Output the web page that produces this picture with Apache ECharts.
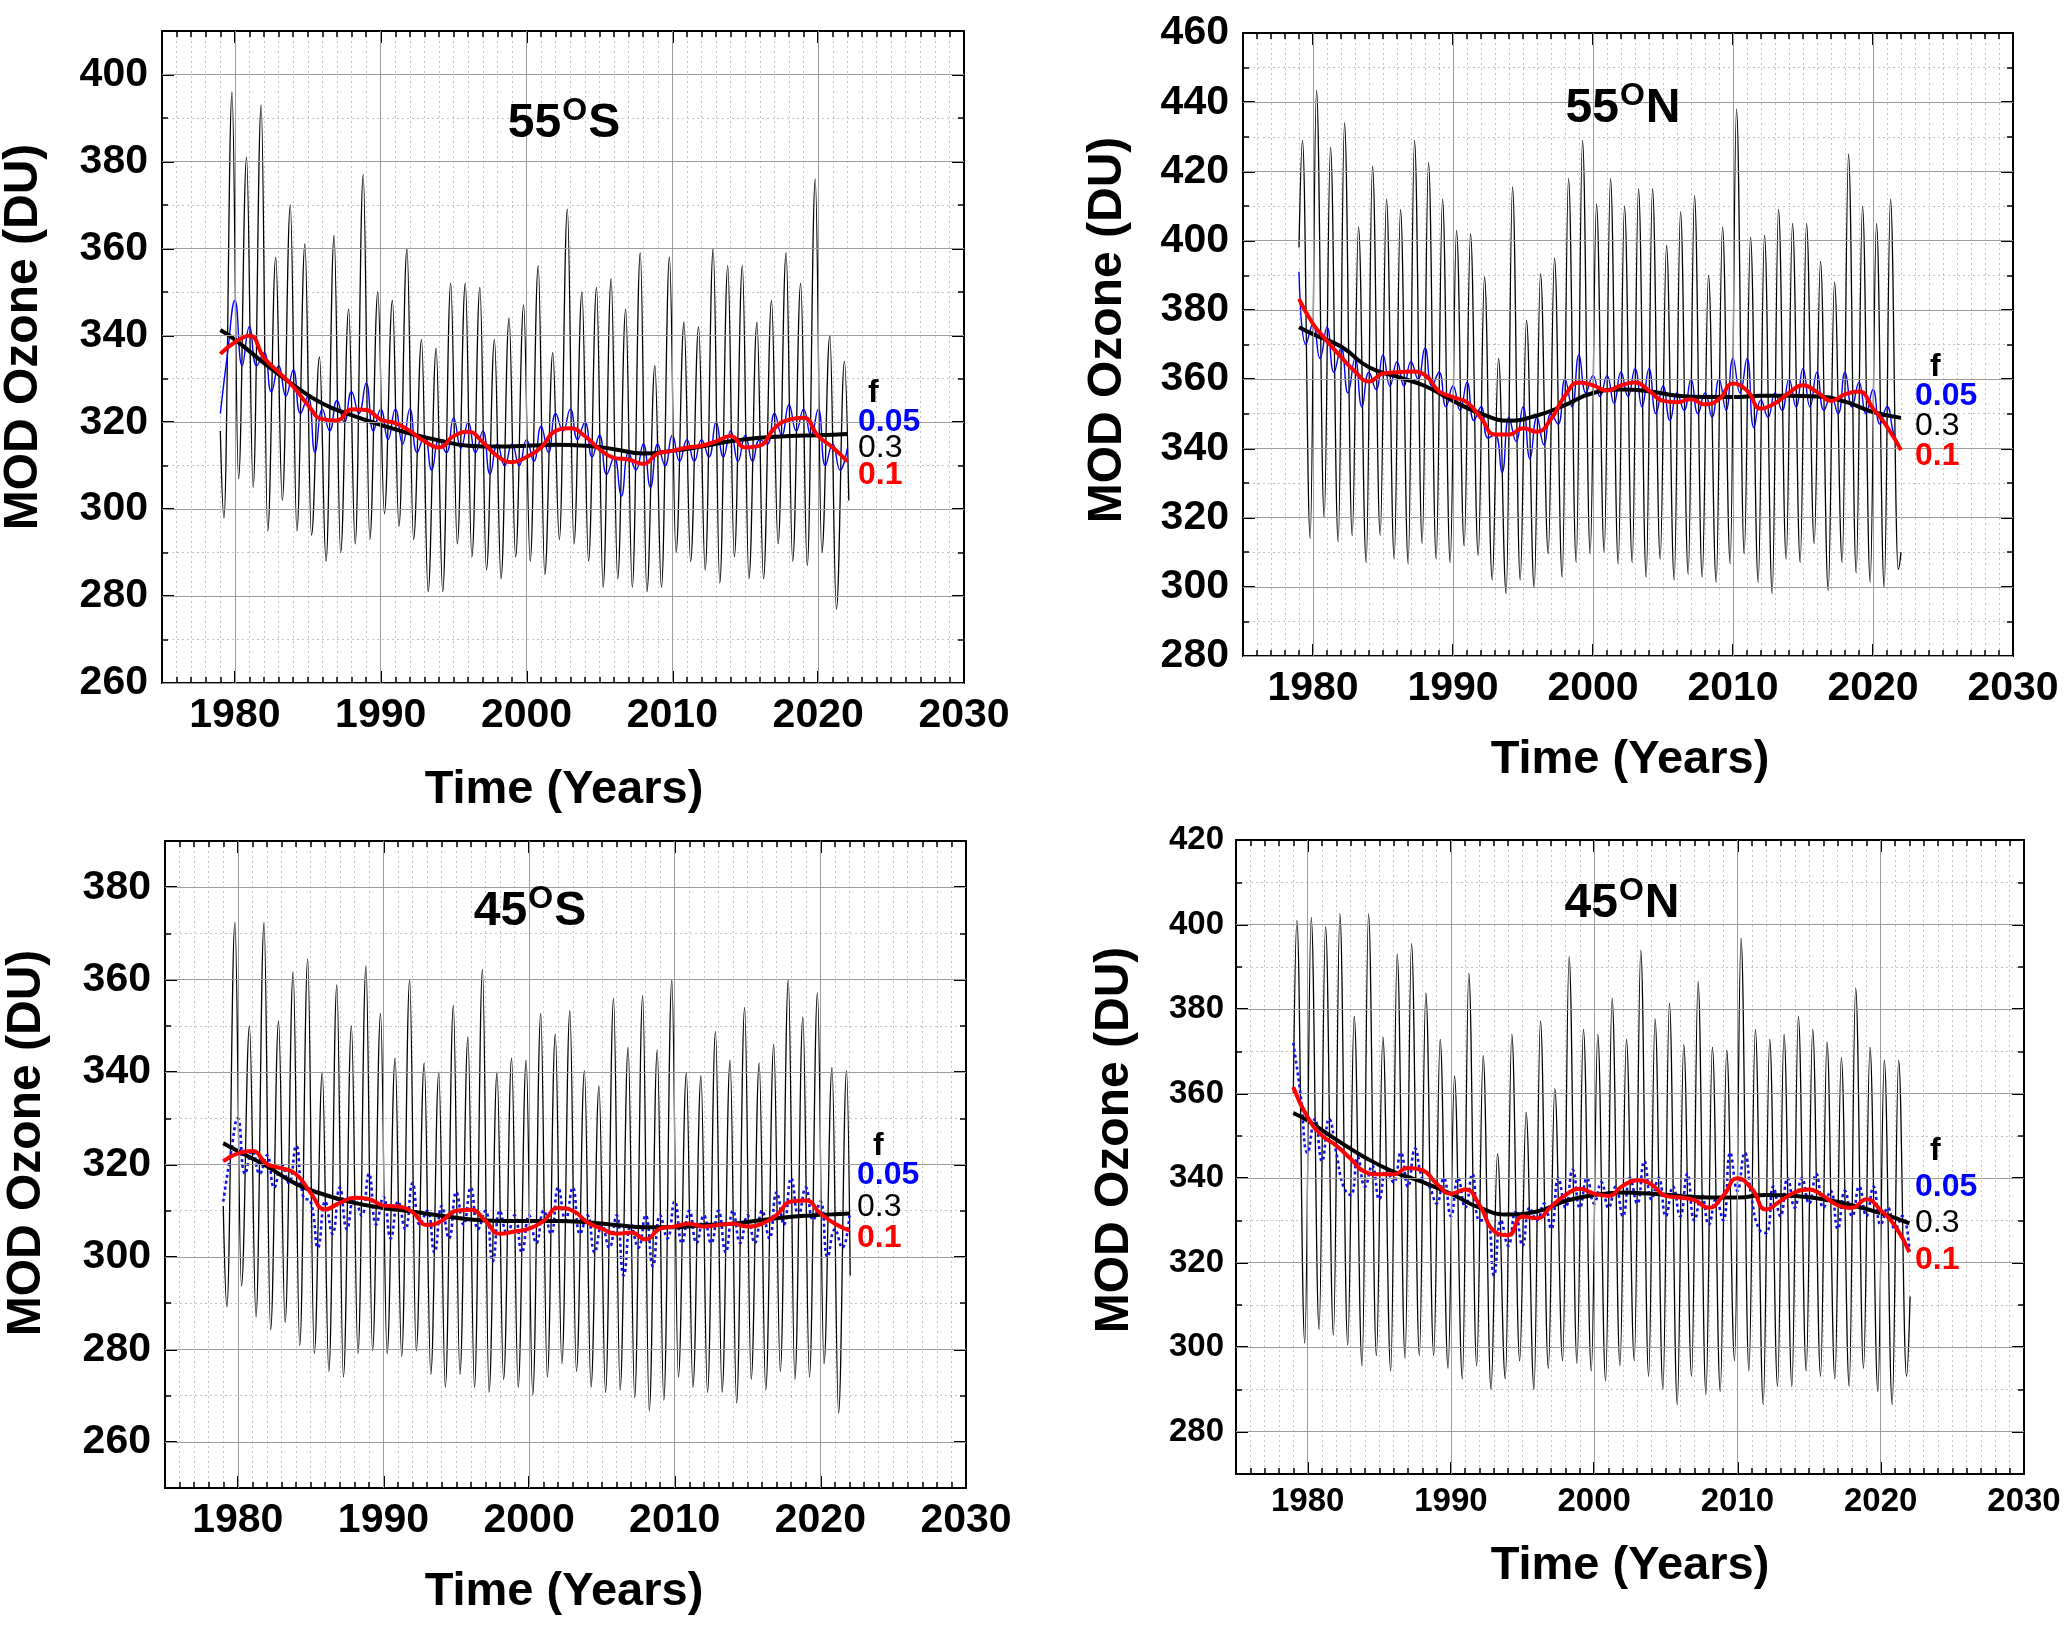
<!DOCTYPE html>
<html><head><meta charset="utf-8">
<script src="https://cdn.jsdelivr.net/npm/echarts@6/dist/echarts.min.js"></script>
<style>html,body{margin:0;padding:0;background:#fff}#c{width:2067px;height:1625px}</style>
</head><body><div id="c"></div><script>
// ---------------- DATA ----------------
const xTickLabels = [1980, 1990, 2000, 2010, 2020, 2030];
const legendLabels = ['f', '0.05', '0.3', '0.1'];
const panelNames = [['55', 'S'], ['55', 'N'], ['45', 'S'], ['45', 'N']];
const firstYear = 1979;
const blackYears = [1979,1980,1982,1984,1986,1988,1990,1992,1994,1996,1998,2000,2002,2004,2006,2008,2010,2012,2014,2016,2018,2020,2022];

// 55S
const s55Peaks = [396,381,393,358,370,361,335,363,346,377,350,348,360,339,337,352,352,351,339,344,347,356,336,369,350,351,353,346,359,333,358,343,342,360,356,356,343,348,359,352,376,340,334];
const s55Troughs = [298,307,305,295,302,295,294,288,290,292,293,299,296,293,281,281,292,289,286,284,289,288,285,293,292,288,282,284,282,281,282,290,288,286,283,289,284,284,292,288,287,290,277];
const s55Ends = [318, 302];
const s55Red = [335.7,338.4,339.9,334.8,331.5,328.2,324,320.7,320.4,323,322.8,320.6,319.8,318,315.6,314.2,316.8,317.8,315.4,312.2,310.8,312,314.2,318,318.6,316.8,313.8,311.8,311.4,310.4,312.8,313.4,314.2,314.6,315.6,316.8,314.2,314.6,318.6,320.6,321,316.8,314.2,311];
const s55Black = [341.2,339,333.6,328.6,324.3,321.6,319.4,317.4,315.8,314.6,314.4,314.6,314.8,314.6,313.8,312.8,313.4,314.4,315.6,316.4,316.8,317,317.3];
const s55Blue = [322,336,348,333,342,333,336,327,333,326, 332,322,326,313,323,318,325,320,327,322, 329,318,323,316,323,315,323,313,317,309, 316,313,321,314,320,313,318,308,315,310, 315,310,316,311,319,313,322,318,323,316, 320,312,317,308,312,303,313,309,315,305, 315,310,317,311,316,311,316,312,320,312, 318,311,317,311,316,315,322,317,324,318, 323,317,323,310,315,309,314];

// 55N
const n55Peaks = [429,443.5,427,434,404,421.5,412,409,429,422.6,412,403,402,389.5,366,415.5,377,390.5,395,418,429,410.6,418,410,415,415,398.6,408.4,413,390,404,438,401,401.6,409,405,405,394,388,425,410,405,412];
const n55Troughs = [314,320,313,314.8,307,314.8,308,306.6,312.5,308,307,311.8,309,302,298,302,299.7,309.5,302.8,307,309.5,310,306.6,307,302.8,308,302,303.6,302.8,301.3,306.6,309.5,301.3,298,308,307,312.5,299,307,304,301.3,299.7,305];
const n55Ends = [398, 310];
const n55Red = [383.2,376,371,366.4,362.2,359.3,361.6,362,362.2,361.2,356.5,354.8,353.3,348.8,344,344,345.8,344.8,348.5,355.2,359,358.2,356.7,358.2,359,356.7,353.7,353.3,354.2,352.7,354.2,358.7,356.7,351.5,353,356,358.2,356.3,353.7,355.6,356.4,351.5,346.3,339.5];
const n55Black = [375,373,369.4,363.4,360.7,358,353.7,350,348,349.5,352.5,356,357,356.5,355.2,354.8,354.8,355.2,355.2,355,353.5,350.5,348.8];
const n55Blue = [391,370,376,366,375,362,369,356,366,352, 362,357,367,358,365,358,365,360,369,358, 362,352,358,351,359,348,352,343,344,333, 349,342,352,337,349,341,350,347,360,352, 367,356,361,355,361,353,362,355,363,352, 363,350,358,348,356,351,360,350,356,349, 360,351,366,356,366,346,354,349,356,351, 360,352,363,352,362,351,355,350,362,352, 359,350,357,347,352,344,340];

// 45S
const s45Peaks = [372.4,350,372.4,351,361.7,364.5,340,358.9,350,363,352.7,343,360,342,340,354.4,347.6,362.2,340,343,342.6,352.7,348.2,353.3,340.3,337,356,345.4,356.6,344.8,360,339.8,339.2,348.8,342.6,354,342,346,360,352,357.2,341,340.3];
const s45Troughs = [289.2,293.7,287,284.2,285.8,280.8,279.1,275.2,274,279.1,279.7,279.1,278.5,279.7,274.6,271.8,274.6,271.8,270.7,273.5,271.8,270.1,274,276.9,275.2,271.8,270.7,271.2,269.6,266.7,269,274,271.8,270.7,270.7,268.4,273.5,271.2,275.2,273.5,274,276.9,266.2];
const s45Ends = [311, 296];
const s45Red = [320.7,322.4,322.9,320.1,319.2,317.9,313.9,310.3,311.7,312.8,312.5,311.1,310.9,309.7,306.9,307.8,310,310.2,307.8,305,305.5,306.1,307.8,310.6,310,307.5,306.1,305,305.3,303.8,306.1,306.6,307.2,306.6,306.9,307.2,306.6,307.2,309.1,312,312.2,309.4,307.2,305.7];
const s45Black = [324.6,322.9,319.6,315.8,313.4,311.7,310.6,309.8,308.9,308.1,307.8,307.8,307.8,307.5,306.9,306.4,306.4,306.9,307.2,308,308.7,309.1,309.4];
const s45Blue = [312,322,330,318,323,318,322,315,320,316, 324,313,312,302,312,305,315,306,313,309, 318,307,313,304,312,306,316,307,310,301, 311,304,314,307,315,306,310,299,310,305, 309,301,309,303,310,305,315,308,315,305, 309,301,307,302,309,296,307,302,309,298, 309,304,312,303,310,303,309,303,310,301, 310,303,309,303,310,304,314,307,317,309, 315,308,312,300,306,302,309];

// 45N
const n45Peaks = [401,401.6,399.5,402.5,378.3,402.5,373.4,393,395.5,383.8,372.8,364.2,388.5,369,345.8,374,355.6,377.2,361.2,392.4,375.2,374,382.6,372.8,393.9,377.7,381.4,371.6,386.5,371,370.3,396.7,375.2,372.8,374,378.3,375.2,372.2,368.5,385,371,367.9,367.9];
const n45Troughs = [301,304.2,302.9,300.5,295.6,298,294.4,297.4,298,298,295,292.5,295.6,290,292.5,296.8,290,295,296.8,296.2,294.4,292,295.6,296.8,293.1,290,286.4,293.1,288.8,289.5,296.8,294.4,286.4,290.7,290.7,294.4,293.1,292.5,290.7,295,289.5,286.4,293.1];
const n45Ends = [360, 312];
const n45Red = [361.5,354.4,350.1,347.7,344.6,341.5,340.9,340.9,342.4,341.9,338.7,336.3,337.3,333.6,327.5,326.5,330.9,330.5,333.3,336,337.5,336.3,335.8,338.2,339.5,338.5,335.8,335.4,334.8,333,335.8,340,337.5,332.6,334.6,336.6,337.3,335.8,333.6,333,335,332.4,328.7,322.5];
const n45Black = [355.4,353.6,349.1,344.9,341.5,339.1,336.3,333,331.4,332.1,334.6,336,336.6,336.3,335.8,335.4,335.4,336,335.8,335,333.6,331.7,329.3];
const n45Blue = [372,360,346,354,344,354,346,338,336,345, 338,343,335,342,339,346,338,347,340,338, 334,340,331,340,333,341,330,330,317,330, 324,332,324,333,330,334,328,340,333,342, 333,340,334,339,333,338,331,340,334,344, 335,340,331,338,331,341,330,336,329,335, 330,346,337,346,335,328,327,338,331,340, 333,340,334,341,333,337,328,337,331,338, 331,338,329,333,328,331,323];

// ---------------- LAYOUT ----------------
const FF = '"Liberation Sans", Arial, sans-serif';
const panels = [
  {d:[s55Peaks,s55Troughs,s55Ends,s55Red,s55Black,s55Blue], nh:false, dotted:false, endT:2022.1,
   grid:{left:162,top:31,width:802,height:652}, ymin:260, ymax:410, fs:41, mx:12, my:14,
   title:[564,124], yt:[24,337], xt:[564,790], lg:{fx:868,fy:393,x:858,ys:[422,448,475]}},
  {d:[n55Peaks,n55Troughs,n55Ends,n55Red,n55Black,n55Blue], nh:true, dotted:false, endT:2022.0,
   grid:{left:1243,top:33,width:770,height:623}, ymin:280, ymax:460, fs:41, mx:12, my:14,
   title:[1623,109], yt:[1108,330], xt:[1630,760], lg:{fx:1930,fy:367,x:1915,ys:[396,426,456]}},
  {d:[s45Peaks,s45Troughs,s45Ends,s45Red,s45Black,s45Blue], nh:false, dotted:true, endT:2022.05,
   grid:{left:165,top:841,width:801,height:647}, ymin:250, ymax:390, fs:41, mx:12, my:14,
   title:[530,912], yt:[27,1143], xt:[564,1592], lg:{fx:873,fy:1146,x:857,ys:[1175,1207,1238]}},
  {d:[n45Peaks,n45Troughs,n45Ends,n45Red,n45Black,n45Blue], nh:true, dotted:true, endT:2022.05,
   grid:{left:1236,top:840,width:788,height:634}, ymin:270, ymax:420, fs:33, mx:11, my:12,
   title:[1622,904], yt:[1115,1140], xt:[1630,1566], lg:{fx:1930,fy:1151,x:1915,ys:[1187,1223,1260]}}
];

function monthly(p) {
  const [pk, tr, ends] = p.d;
  const out = [[firstYear, ends[0]]];
  for (let i = 0; i < pk.length; i++) {
    const y = firstYear + i;
    if (p.nh) { out.push([y + 0.25, pk[i]]); out.push([y + 0.8, tr[i]]); }
    else { out.push([y + 0.25, tr[i]]); out.push([y + 0.8, pk[i]]); }
  }
  out.push([p.endT, ends[1]]);
  return out;
}
const pairs = (xs, vs) => vs.map((v, i) => [xs[i], v]);
const yearly = vs => vs.map((v, i) => [firstYear + i, v]);
const halfYearly = vs => vs.map((v, i) => [firstYear + i * 0.5, v]);
function yLabels(p) { const a = []; for (let v = Math.ceil(p.ymin / 20) * 20; v <= p.ymax; v += 20) a.push(v); return a; }

const grids = [], xAxis = [], yAxis = [], series = [], graphic = [];
const lineCol = '#000';
panels.forEach((p, gi) => {
  grids.push(Object.assign({containLabel:false}, p.grid));
  const yl = yLabels(p);
  const xCommon = {type:'value', gridIndex:gi, min:1975, max:2030, interval:1};
  const yCommon = {type:'value', gridIndex:gi, min:p.ymin, max:p.ymax, interval:10};
  const lab = {fontSize:p.fs, fontWeight:'bold', color:'#000', fontFamily:FF, formatter: v => String(v)};
  xAxis.push(Object.assign({}, xCommon, {position:'bottom',
    axisLine:{show:true,onZero:false,lineStyle:{color:lineCol,width:2}},
    axisTick:{show:true,inside:true,length:6,lineStyle:{color:lineCol,width:1.5}},
    axisLabel:Object.assign({customValues:xTickLabels, margin:p.mx}, lab),
    splitLine:{show:true,lineStyle:{color:'#c4c4c4',type:[2,3],width:1}}}));
  xAxis.push(Object.assign({}, xCommon, {position:'bottom',
    axisLine:{show:false}, axisTick:{show:true,inside:true,length:12,customValues:xTickLabels,lineStyle:{color:lineCol,width:2}},
    axisLabel:{show:false}, splitLine:{show:false}}));
  xAxis.push(Object.assign({}, xCommon, {position:'top',
    axisLine:{show:true,onZero:false,lineStyle:{color:lineCol,width:2}},
    axisTick:{show:true,inside:true,length:6,lineStyle:{color:lineCol,width:1.5}},
    axisLabel:{show:false}, splitLine:{show:false}}));
  xAxis.push(Object.assign({}, xCommon, {position:'top',
    axisLine:{show:false}, axisTick:{show:true,inside:true,length:12,customValues:xTickLabels,lineStyle:{color:lineCol,width:2}},
    axisLabel:{show:false}, splitLine:{show:false}}));

  yAxis.push(Object.assign({}, yCommon, {position:'left',
    axisLine:{show:true,onZero:false,lineStyle:{color:lineCol,width:2}},
    axisTick:{show:true,inside:true,length:6,lineStyle:{color:lineCol,width:1.5}},
    axisLabel:Object.assign({customValues:yl, margin:p.my}, lab),
    splitLine:{show:true,lineStyle:{color:'#c4c4c4',type:[2,3],width:1}}}));
  yAxis.push(Object.assign({}, yCommon, {position:'left',
    axisLine:{show:false}, axisTick:{show:true,inside:true,length:12,customValues:yl,lineStyle:{color:lineCol,width:2}},
    axisLabel:{show:false}, splitLine:{show:false}}));
  yAxis.push(Object.assign({}, yCommon, {position:'right',
    axisLine:{show:true,onZero:false,lineStyle:{color:lineCol,width:2}},
    axisTick:{show:true,inside:true,length:6,lineStyle:{color:lineCol,width:1.5}},
    axisLabel:{show:false}, splitLine:{show:false}}));
  yAxis.push(Object.assign({}, yCommon, {position:'right',
    axisLine:{show:false}, axisTick:{show:true,inside:true,length:12,customValues:yl,lineStyle:{color:lineCol,width:2}},
    axisLabel:{show:false}, splitLine:{show:false}}));

  const xi = gi * 4, yi = gi * 4;
  // major solid grid lines
  const ml = xTickLabels.filter(v => v < 2030).map(v => ({xAxis:v})).concat(yl.filter(v => v < p.ymax).map(v => ({yAxis:v})));
  series.push({type:'line', xAxisIndex:xi, yAxisIndex:yi, data:[], z:1, silent:true,
    markLine:{silent:true, symbol:['none','none'], label:{show:false}, animation:false,
      lineStyle:{color:'#9c9c9c', type:'solid', width:1}, data:ml}});
  const [pk, tr, ends, red, blk, blue] = p.d;
  series.push({type:'line', xAxisIndex:xi, yAxisIndex:yi, data:monthly(p), showSymbol:false, smooth:0.4, smoothMonotone:'x',
    lineStyle:{color:'#000', width:1.3}, z:2, silent:true});
  series.push({type:'line', xAxisIndex:xi, yAxisIndex:yi, data:halfYearly(blue), showSymbol:false, smooth:0.5,
    lineStyle: p.dotted ? {color:'#1010ee', width:2.6, type:[3,3]} : {color:'#0000ff', width:1.4}, z:3, silent:true});
  series.push({type:'line', xAxisIndex:xi, yAxisIndex:yi, data:pairs(blackYears, blk), showSymbol:false, smooth:0.5,
    lineStyle:{color:'#000', width:4}, z:4, silent:true});
  series.push({type:'line', xAxisIndex:xi, yAxisIndex:yi, data:yearly(red), showSymbol:false, smooth:0.5,
    lineStyle:{color:'#ff0000', width:4}, z:5, silent:true});

  // texts
  const nm = panelNames[gi];
  graphic.push({type:'text', x:p.title[0], y:p.title[1], z:10, style:{
    text:'{a|' + nm[0] + '}{b|O}{a|' + nm[1] + '}', align:'center', verticalAlign:'middle', textAlign:'center', textVerticalAlign:'middle',
    rich:{a:{fontSize:48, fontWeight:'bold', fontFamily:FF, fill:'#000'},
          b:{fontSize:32, fontWeight:'bold', fontFamily:FF, fill:'#000', verticalAlign:'top', padding:[0,1,26,1]}}}});
  graphic.push({type:'text', x:p.yt[0], y:p.yt[1], rotation:Math.PI/2, z:10, style:{
    text:'MOD Ozone (DU)', font:'bold 48px ' + FF, fill:'#000', align:'center', verticalAlign:'middle', textAlign:'center', textVerticalAlign:'middle'}});
  graphic.push({type:'text', x:p.xt[0], y:p.xt[1], z:10, style:{
    text:'Time (Years)', font:'bold 47px ' + FF, fill:'#000', align:'center', verticalAlign:'middle', textAlign:'center', textVerticalAlign:'middle'}});
  const lc = ['#000', '#0000ff', '#000', '#ff0000'];
  const lw = ['bold', 'bold', 'normal', 'bold'];
  legendLabels.forEach((t, k) => {
    const x = k === 0 ? p.lg.fx : p.lg.x, y = k === 0 ? p.lg.fy : p.lg.ys[k - 1];
    graphic.push({type:'text', x:x, y:y, z:10, style:{text:t, font:lw[k] + ' 32px ' + FF, fill:lc[k],
      align:'left', verticalAlign:'middle', textAlign:'left', textVerticalAlign:'middle'}});
  });
});

const chart = echarts.init(document.getElementById('c'), null, {renderer:'canvas'});
chart.setOption({animation:false, backgroundColor:'#fff', grid:grids, xAxis:xAxis, yAxis:yAxis, series:series, graphic:graphic});
</script></body></html>
